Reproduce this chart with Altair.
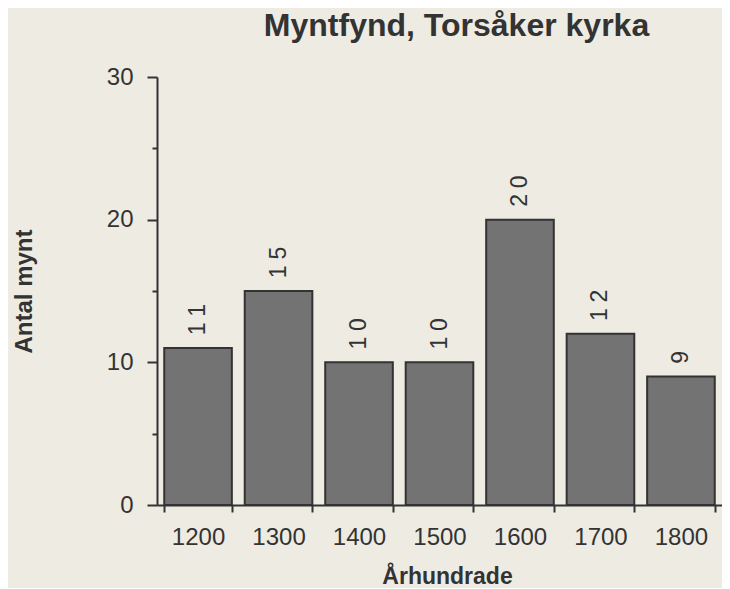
import altair as alt
import pandas as pd

centuries = ["1200", "1300", "1400", "1500", "1600", "1700", "1800"]
counts = [11, 15, 10, 10, 20, 12, 9]

df = pd.DataFrame({"century": centuries, "count": counts})

FONT = "Liberation Sans"
INK = "#333333"

base = alt.Chart(df)

bars = base.mark_bar(
    color="#737373", stroke=INK, strokeWidth=2
).encode(
    x=alt.X(
        "century:N",
        sort=centuries,
        title="Århundrade",
        scale=alt.Scale(paddingInner=0.16, paddingOuter=0.09),
        axis=alt.Axis(
            labelAngle=0,
            tickBand="extent",
            tickSize=7,
            tickWidth=2,
            tickColor=INK,
            domainColor=INK,
            domainWidth=2,
            labelFont=FONT,
            labelFontSize=24,
            labelColor=INK,
            labelPadding=13,
            titleFont=FONT,
            titleFontSize=23,
            titleFontWeight="bold",
            titleColor=INK,
            titlePadding=16,
            titleX=290,
        ),
    ),
    y=alt.Y(
        "count:Q",
        title="Antal mynt",
        scale=alt.Scale(domain=[0, 30], nice=False),
        axis=alt.Axis(
            values=[0, 5, 10, 15, 20, 25, 30],
            labelExpr="datum.value % 10 === 0 ? datum.label : ''",
            tickSize={"condition": {"test": "datum.value % 10 !== 0", "value": 5}, "value": 10},
            tickWidth=2,
            tickColor=INK,
            domainColor=INK,
            domainWidth=2,
            grid=False,
            labelFont=FONT,
            labelFontSize=24,
            labelColor=INK,
            labelPadding=14,
            titleFont=FONT,
            titleFontSize=24,
            titleFontWeight="bold",
            titleColor=INK,
            titlePadding=70,
        ),
    ),
)

labels = base.transform_calculate(
    txt="join(split(toString(datum.count), ''), '\u2005')",
    ypos="datum.count + 0.9",
).mark_text(
    angle=270, align="left", baseline="middle",
    font=FONT, fontSize=23, color=INK,
).encode(
    x=alt.X("century:N", sort=centuries),
    y=alt.Y("ypos:Q"),
    text="txt:N",
)

chart = (bars + labels).properties(
    width=565,
    height=428,
    padding={"left": 4, "top": 2, "right": 0, "bottom": 0},
    background="#eeebe3",
    title=alt.TitleParams(
        "Myntfynd, Torsåker kyrka",
        font=FONT, fontSize=32, fontWeight="bold", color=INK,
        anchor="middle", dx=17, offset=22,
    ),
).configure_view(stroke=None)

chart.save("out.html", embed_options={"renderer": "svg", "actions": False})
